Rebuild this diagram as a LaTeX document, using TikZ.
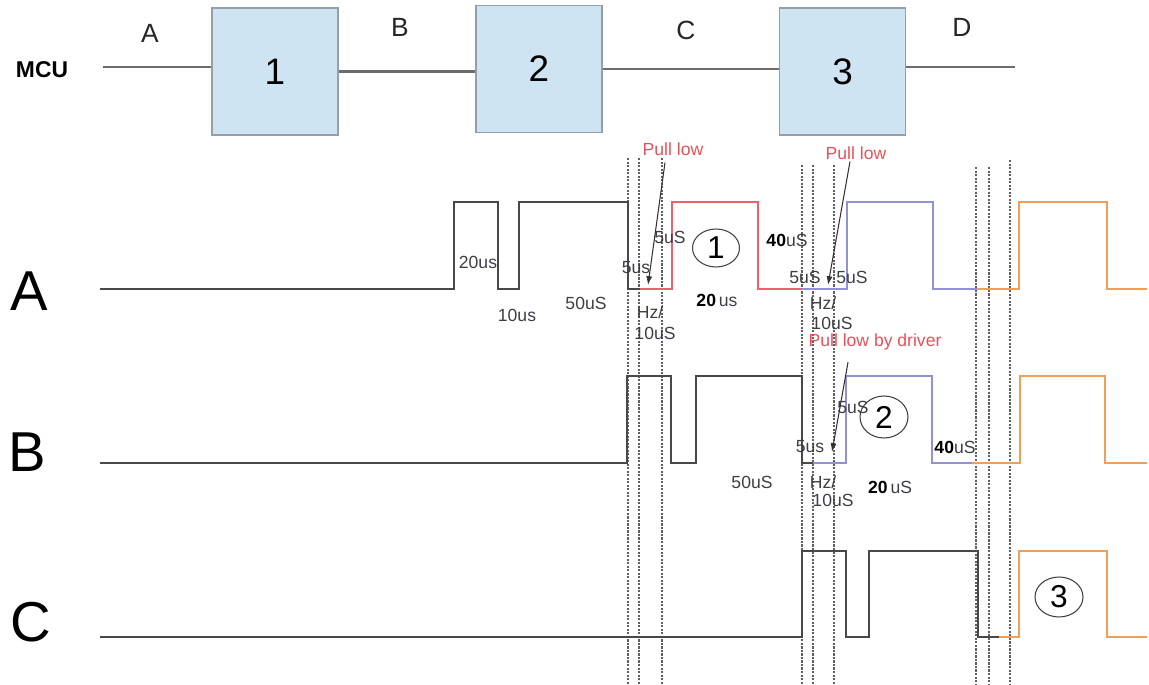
\documentclass[tikz,border=0pt]{standalone}
\usepackage{fontspec}
\setmainfont{Liberation Sans}
\usetikzlibrary{arrows.meta,shapes.geometric}

\definecolor{blokfill}{RGB}{207,228,243}
\definecolor{blokline}{RGB}{150,158,168}
\definecolor{wavegray}{RGB}{72,72,72}
\definecolor{wavered}{RGB}{238,96,110}
\definecolor{waveblue}{RGB}{145,145,215}
\definecolor{waveorange}{RGB}{243,158,88}
\definecolor{labgray}{RGB}{62,62,72}
\definecolor{pullred}{RGB}{232,80,90}

\tikzset{
  blok/.style={draw=blokline, line width=0.8pt, fill=blokfill, minimum width=2.52cm,
    minimum height=2.54cm, font=\fontsize{21}{24}\selectfont},
  bus/.style={draw=gray!85!black, line width=1.2pt},
  wave/.style={line width=1.1pt, wavegray},
  guide/.style={gray!75!black, line width=0.8pt, dash pattern=on 1.2pt off 0.8pt},
  tlabel/.style={font=\fontsize{10}{12}\selectfont, text=labgray, inner sep=0.5pt},
  pull/.style={font=\fontsize{10}{12}\selectfont, text=pullred, inner sep=1pt},
  pointer/.style={draw=black!80, line width=0.6pt, -{Latex[length=5pt,width=3.5pt]}},
  circnum/.style={ellipse, draw=black!75, line width=0.6pt, inner sep=0pt,
    font=\fontsize{18}{20}\selectfont},
}

\begin{document}
\begin{tikzpicture}[x=0.02cm, y=-0.02cm]
\useasboundingbox (0,0) rectangle (1149,685);

% --- Niveaux des signaux ---
\def\hiA{202} \def\loA{289}
\def\hiB{376} \def\loB{463}
\def\hiC{551} \def\loC{637}

% --- Ligne MCU et blocs ---
\node[font=\fontsize{13}{15}\selectfont\bfseries] (mcu) at (42,70) {MCU};
\node[blok] (box1) at (275,71.5) {1};
\node[blok] (box2) at (539,69) {2};
\node[blok] (box3) at (842.5,71.5) {3};
\coordinate (busL) at (103,67);
\coordinate (busR) at (1015,67);
\draw[bus] (busL) -- (busL -| box1.west);
\draw[bus] (box1.east) -- (box1.east -| box2.west);
\draw[bus] (box2.east) -- (box2.east -| box3.west);
\draw[bus] (busR -| box3.east) -- (busR);

% --- Étiquettes des segments ---
\node[font=\fontsize{15}{17}\selectfont, text=black!85] (segA) at (150,33) {A};
\node[font=\fontsize{15}{17}\selectfont, text=black!85] (segB) at (400,27) {B};
\node[font=\fontsize{15}{17}\selectfont, text=black!85] (segC) at (686,30) {C};
\node[font=\fontsize{15}{17}\selectfont, text=black!85] (segD) at (962,27) {D};

% --- Étiquettes des lignes ---
\node[font=\fontsize{32}{36}\selectfont] (rowA) at (29,291) {A};
\node[font=\fontsize{32}{36}\selectfont] (rowB) at (27,452) {B};
\node[font=\fontsize{32}{36}\selectfont] (rowC) at (31,622) {C};

% --- Repères pointillés ---
\foreach \x/\t in {628/158, 639/158, 662/158, 802/165, 813/165, 834/165,
                   976/167, 989/167, 1010/160}
  \draw[guide] (\x,\t) -- (\x,685);

% --- Signal A ---
\draw[wave] (100,\loA) -- (454,\loA) -- (454,\hiA) -- (498,\hiA) -- (498,\loA)
  -- (519,\loA) -- (519,\hiA) -- (628,\hiA) -- (628,\loA) -- (640,\loA);
\draw[wave, wavered] (640,\loA) -- (672,\loA) -- (672,\hiA) -- (758,\hiA)
  -- (758,\loA) -- (802,\loA);
\draw[wave, waveblue] (802,\loA) -- (847,\loA) -- (847,\hiA) -- (933,\hiA)
  -- (933,\loA) -- (977,\loA);
\draw[wave, waveorange] (977,\loA) -- (1019,\loA) -- (1019,\hiA) -- (1107,\hiA)
  -- (1107,\loA) -- (1147,\loA);

% --- Signal B ---
\draw[wave] (100,\loB) -- (627,\loB) -- (627,\hiB) -- (671,\hiB) -- (671,\loB)
  -- (696,\loB) -- (696,\hiB) -- (802,\hiB) -- (802,\loB) -- (813,\loB);
\draw[wave, waveblue] (813,\loB) -- (846,\loB) -- (846,\hiB) -- (932,\hiB)
  -- (932,\loB) -- (972,\loB);
\draw[wave, waveorange] (972,\loB) -- (1020,\loB) -- (1020,\hiB) -- (1105,\hiB)
  -- (1105,\loB) -- (1147,\loB);

% --- Signal C ---
\draw[wave] (100,\loC) -- (802,\loC) -- (802,\hiC) -- (846,\hiC) -- (846,\loC)
  -- (869,\loC) -- (869,\hiC) -- (978,\hiC) -- (978,\loC) -- (999,\loC);
\draw[wave, waveorange] (999,\loC) -- (1019,\loC) -- (1019,\hiC) -- (1107,\hiC)
  -- (1107,\loC) -- (1147,\loC);

% --- Numéros entourés ---
\node[circnum, minimum width=0.94cm, minimum height=0.76cm] (c1) at (716,248) {1};
\node[circnum, minimum width=0.96cm, minimum height=0.84cm] (c2) at (884,417) {2};
\node[circnum, minimum width=0.96cm, minimum height=0.80cm] (c3) at (1059,597) {3};

% --- Durées, signal A ---
\node[tlabel] (a20) at (478,262) {20us};
\node[tlabel] (a10) at (517,315) {10us};
\node[tlabel] (a50) at (586,303) {50uS};
\node[tlabel] (a5l) at (636,268) {5us};
\node[tlabel] (a5h) at (670,237) {5uS};
\node[tlabel] (aHz) at (650,312) {Hz/};
\node[tlabel] (aHzt) at (655,333) {10uS};
\node[tlabel] (a20b) at (717,300) {{\bfseries\color{black}20}\,us};
\node[tlabel] (a40) at (787,240) {{\bfseries\color{black}40}uS};
\node[tlabel] (b5l) at (805,277) {5uS};
\node[tlabel] (b5h) at (852,277) {5uS};
\node[tlabel] (bHz) at (823,303) {Hz/};
\node[tlabel] (bHzt) at (832,323) {10uS};

% --- Durées, signal B ---
\node[tlabel] (d50) at (752,482) {50uS};
\node[tlabel] (d5l) at (810,447) {5us};
\node[tlabel] (d5h) at (853,407) {5uS};
\node[tlabel] (dHz) at (823,482) {Hz/};
\node[tlabel] (dHzt) at (833,500) {10uS};
\node[tlabel] (d20) at (890,487) {{\bfseries\color{black}20}\,uS};
\node[tlabel] (d40) at (955,447) {{\bfseries\color{black}40}uS};

% --- Mises au niveau bas ---
\node[pull] (pull1) at (673,149) {Pull low};
\node[pull] (pull2) at (856,153) {Pull low};
\node[pull] (pull3) at (875,342) {Pull low by driver};
\coordinate (tip1) at (648,285);
\coordinate (tip2) at (828,285);
\coordinate (tip3) at (832,452);
\draw[pointer] ([xshift=-0.16cm,yshift=-0.1cm]pull1.south) -- (tip1);
\draw[pointer] ([xshift=-0.12cm]pull2.south) -- (tip2);
\draw[pointer] ([xshift=-0.54cm,yshift=-0.2cm]pull3.south) -- (tip3);

\end{tikzpicture}
\end{document}
